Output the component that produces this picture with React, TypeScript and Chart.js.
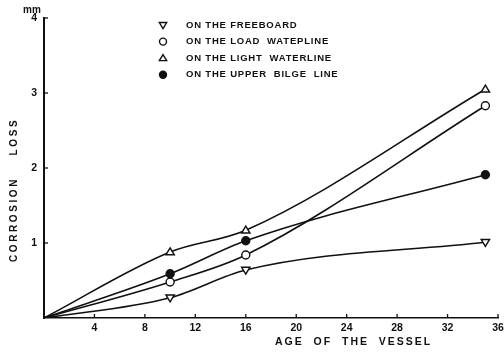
import React, { useEffect, useRef } from 'react';
import { Chart, registerables } from 'chart.js';
Chart.register(...registerables);

const ages = [0, 10, 16, 35];
const freeboard = [0, 0.27, 0.64, 1.01];
const loadWaterline = [0, 0.48, 0.84, 2.83];
const lightWaterline = [0, 0.88, 1.17, 3.05];
const upperBilge = [0, 0.59, 1.03, 1.91];
const seriesLabels = [
  'ON THE FREEBOARD',
  'ON THE LOAD  WATEPLINE',
  'ON THE LIGHT  WATERLINE',
  'ON THE UPPER  BILGE  LINE',
];
const xTicks = [4, 8, 12, 16, 20, 24, 28, 32, 36];
const yTicks = [1, 2, 3, 4];
const xTitle = 'AGE  OF  THE  VESSEL';
const yTitle = 'CORROSION    LOSS';
const yUnit = 'mm';

const FONT = "'Liberation Sans', Arial, sans-serif";
const INK = '#111';

type Marker = 'down' | 'circle' | 'up' | 'dot';
const markers: Marker[] = ['down', 'circle', 'up', 'dot'];

function drawMarker(ctx: CanvasRenderingContext2D, kind: Marker, x: number, y: number, r: number) {
  ctx.beginPath();
  if (kind === 'circle' || kind === 'dot') {
    ctx.arc(x, y, r, 0, Math.PI * 2);
  } else {
    const s = kind === 'up' ? 1 : -1;
    ctx.moveTo(x, y - s * r * 1.05);
    ctx.lineTo(x + r * 1.05, y + s * r * 0.7);
    ctx.lineTo(x - r * 1.05, y + s * r * 0.7);
    ctx.closePath();
  }
  ctx.fillStyle = kind === 'dot' ? INK : '#fff';
  ctx.fill();
  ctx.lineWidth = 1.4;
  ctx.strokeStyle = INK;
  ctx.stroke();
}

const decor = {
  id: 'decor',
  afterDraw(chart: any) {
    const { ctx, chartArea, scales } = chart;
    const x = scales.x;
    const y = scales.y;
    ctx.save();
    ctx.strokeStyle = INK;
    ctx.lineWidth = 1.3;
    xTicks.forEach((v) => {
      const px = x.getPixelForValue(v);
      ctx.beginPath();
      ctx.moveTo(px, chartArea.bottom);
      ctx.lineTo(px, chartArea.bottom - 4);
      ctx.stroke();
    });
    yTicks.forEach((v) => {
      const py = y.getPixelForValue(v);
      ctx.beginPath();
      ctx.moveTo(chartArea.left, py);
      ctx.lineTo(chartArea.left + 4, py);
      ctx.stroke();
    });

    chart.data.datasets.forEach((ds: any, i: number) => {
      ds.data.forEach((p: any, j: number) => {
        if (j === 0) return;
        drawMarker(ctx, markers[i], x.getPixelForValue(p.x), y.getPixelForValue(p.y), 4);
      });
    });

    // legend
    ctx.font = `bold 9.5px ${FONT}`;
    (ctx as any).letterSpacing = '0.8px';
    ctx.textBaseline = 'middle';
    ctx.textAlign = 'left';
    ctx.fillStyle = INK;
    seriesLabels.forEach((lab, i) => {
      const yy = 25 + i * 16.6;
      drawMarker(ctx, markers[i], 163, yy, 3.5);
      ctx.fillStyle = INK;
      ctx.fillText(lab, 186, yy);
    });

    // unit
    (ctx as any).letterSpacing = '0px';
    ctx.font = `bold 10px ${FONT}`;
    ctx.textAlign = 'center';
    ctx.fillText(yUnit, 32, 10);

    // x title
    ctx.font = `bold 10.5px ${FONT}`;
    (ctx as any).letterSpacing = '2px';
    ctx.textAlign = 'left';
    ctx.fillText(xTitle, 275, 342);

    // y title
    ctx.translate(14, 262);
    ctx.rotate(-Math.PI / 2);
    ctx.font = `bold 10px ${FONT}`;
    (ctx as any).letterSpacing = '2.6px';
    ctx.fillText(yTitle, 0, 0);
    ctx.restore();
  },
};

export default function App() {
  const ref = useRef<HTMLCanvasElement | null>(null);
  useEffect(() => {
    if (!ref.current) return;
    const mk = (vals: number[]) => ages.map((a, i) => ({ x: a, y: vals[i] }));
    const base = {
      borderColor: INK,
      borderWidth: 1.6,
      pointRadius: 0,
      cubicInterpolationMode: 'monotone',
      fill: false,
    };
    const chart = new Chart(ref.current, {
      type: 'line',
      data: {
        datasets: [
          { ...base, label: seriesLabels[0], data: mk(freeboard) },
          { ...base, label: seriesLabels[1], data: mk(loadWaterline) },
          { ...base, label: seriesLabels[2], data: mk(lightWaterline) },
          { ...base, label: seriesLabels[3], data: mk(upperBilge) },
        ],
      },
      options: {
        animation: false,
        responsive: true,
        maintainAspectRatio: false,
        layout: { padding: { left: 0, right: 18, top: 18, bottom: 0 } },
        plugins: { legend: { display: false }, tooltip: { enabled: false } },
        scales: {
          x: {
            type: 'linear',
            min: 0,
            max: 36,
            border: { color: INK, width: 1.5 },
            grid: { display: false, drawTicks: false },
            ticks: {
              stepSize: 4,
              padding: 4,
              maxRotation: 0,
              autoSkip: false,
              color: INK,
              font: { family: FONT, size: 10.5, weight: 'bold' },
              callback: (v: any) => (v === 0 ? '' : String(v)),
            },
            afterFit: (s: any) => {
              s.height = 34;
              s.paddingLeft = 0;
              s.paddingRight = 0;
            },
          },
          y: {
            min: 0,
            max: 4,
            border: { color: INK, width: 2 },
            grid: { display: false, drawTicks: false },
            ticks: {
              stepSize: 1,
              padding: 7,
              color: INK,
              font: { family: FONT, size: 10.5, weight: 'bold' },
              callback: (v: any) => (v === 0 ? '' : String(v)),
            },
            afterFit: (s: any) => {
              s.width = 44;
              s.paddingTop = 0;
              s.paddingBottom = 0;
            },
          },
        },
      } as any,
      plugins: [decor],
    });
    return () => chart.destroy();
  }, []);
  return (
    <div style={{ position: 'fixed', left: 0, top: 0, width: 504, height: 352, overflow: 'hidden', background: '#fff' }}>
      <div style={{ position: 'relative', width: 516, height: 352 }}>
        <canvas ref={ref} />
      </div>
    </div>
  );
}
